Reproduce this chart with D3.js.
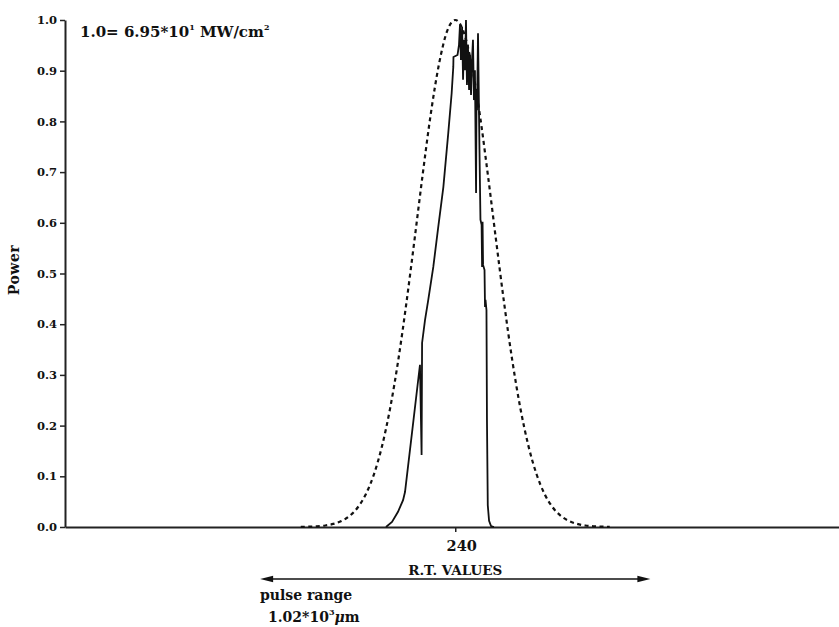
<!DOCTYPE html>
<html>
<head>
<meta charset="utf-8">
<script src="https://cdn.jsdelivr.net/npm/d3@7"></script>
<style>
  html, body { margin: 0; padding: 0; background: #fff; }
  svg { display: block; }
  text { font-family: "DejaVu Serif", "Liberation Serif", serif; font-weight: bold; fill: #111; }
</style>
</head>
<body>
<svg id="chart" width="839" height="627"></svg>
<script>
// Reference (Gaussian) pulse, dashed
const refX = [145,150,155,160,165,170,175,180,185,190,195,200,205,210,215,220,225,230,235,240,
              245,250,255,260,265,270,275,280,285,290,295,300,305,310,315,320,325,330,335];
const refY = [0.0003,0.0007,0.0014,0.0030,0.0061,0.0118,0.0218,0.0384,0.0646,0.104,0.160,0.235,0.330,0.443,0.568,0.696,0.816,0.913,0.978,1.0,
              0.978,0.913,0.816,0.696,0.568,0.443,0.330,0.235,0.160,0.104,0.0646,0.0384,0.0218,0.0118,0.0061,0.0030,0.0014,0.0007,0.0003];

// Measured power, solid
const powX = [197.4,201.1,204.8,207.9,209.1,213.7,218.3,219.3,219.6,221.4,223.4,226.5,229.4,232.7,235.7,237.8,238.8,238.9,
              241.4,242.3,242.9,243.5,244.2,244.8,245.4,246.0,246.6,247.2,247.8,248.5,249.1,249.7,250.3,250.9,251.5,252.1,
              252.8,253.1,253.4,254.0,254.9,255.5,256.2,256.5,256.8,257.1,258.0,258.3,258.6,259.2,259.5,260.0,260.8,262.0,263.8];
const powY = [0,0.010,0.030,0.053,0.069,0.194,0.320,0.142,0.363,0.408,0.448,0.513,0.588,0.671,0.777,0.856,0.908,0.927,
              0.931,0.951,0.990,0.921,0.986,0.882,0.961,0.901,1.0,0.872,0.951,0.862,0.931,0.852,0.921,0.961,0.842,0.901,
              0.659,0.862,0.822,0.974,0.744,0.606,0.596,0.513,0.602,0.517,0.507,0.434,0.448,0.428,0.211,0.043,0.012,0.002,0];

const yTicks = [0,0.1,0.2,0.3,0.4,0.5,0.6,0.7,0.8,0.9,1.0];
const xTicks = [240];
const pulseRange = [120, 360];

const svg = d3.select("#chart");

const x = d3.scaleLinear().domain([0, 476]).range([65, 839]);
const y = d3.scaleLinear().domain([0, 1]).range([527, 20]);

// Y axis
const yAxis = d3.axisLeft(y).tickValues(yTicks).tickFormat(d3.format(".1f")).tickSize(5).tickSizeOuter(0).tickPadding(3);
const gy = svg.append("g").attr("transform", `translate(${x(0)},0)`).call(yAxis);
gy.select(".domain").attr("stroke", "#222").attr("stroke-width", 2);
gy.selectAll(".tick line").attr("stroke", "#222").attr("stroke-width", 1.5);
gy.selectAll(".tick text").attr("font-family", null).attr("font-size", 11.5).attr("fill", "#111");

// X axis
const xAxis = d3.axisBottom(x).tickValues(xTicks).tickSize(5).tickSizeOuter(0).tickPadding(9);
const gx = svg.append("g").attr("transform", `translate(0,${y(0)})`).call(xAxis);
gx.select(".domain").attr("stroke", "#222").attr("stroke-width", 2);
gx.selectAll(".tick line").attr("stroke", "#222").attr("stroke-width", 1.5);
gx.selectAll(".tick text").attr("font-family", null).attr("font-size", 14.5).attr("dx", 6).attr("fill", "#111");

// Curves
const refLine = d3.line().x((d, i) => x(refX[i])).y(d => y(d)).curve(d3.curveMonotoneX);
svg.append("path").attr("d", refLine(refY))
  .attr("fill", "none").attr("stroke", "#111").attr("stroke-width", 2.2)
  .attr("stroke-dasharray", "4,3.5");

const powLine = d3.line().x((d, i) => x(powX[i])).y(d => y(d));
svg.append("path").attr("d", powLine(powY))
  .attr("fill", "none").attr("stroke", "#111").attr("stroke-width", 1.8)
  .attr("stroke-linejoin", "miter");

// Axis titles
svg.append("text").attr("transform", "translate(19,270) rotate(-90)")
  .attr("text-anchor", "middle").attr("font-size", 14).attr("letter-spacing", 0.5).text("Power");

svg.append("text").attr("x", x(240)).attr("y", 575)
  .attr("text-anchor", "middle").attr("font-size", 13.5).text("R.T. VALUES");

// Scale note
const note = svg.append("text").attr("x", 80).attr("y", 37).attr("font-size", 15);
note.append("tspan").text("1.0= 6.95*10");
note.append("tspan").attr("font-size", 8).attr("dy", -7).text("1");
note.append("tspan").attr("dy", 7).text(" MW/cm");
note.append("tspan").attr("font-size", 8).attr("dy", -7).text("2");

// Pulse range arrow
const ay = 579;
svg.append("line").attr("x1", x(pulseRange[0]) + 6).attr("x2", x(pulseRange[1]) - 6)
  .attr("y1", ay).attr("y2", ay).attr("stroke", "#111").attr("stroke-width", 1.6);
svg.append("path")
  .attr("d", `M${x(pulseRange[0])},${ay} l13,-3.2 l0,6.4 Z`).attr("fill", "#111");
svg.append("path")
  .attr("d", `M${x(pulseRange[1])},${ay} l-13,-3.2 l0,6.4 Z`).attr("fill", "#111");

svg.append("text").attr("x", 260).attr("y", 600).attr("font-size", 14).text("pulse range");
const pr = svg.append("text").attr("x", 268).attr("y", 622).attr("font-size", 14);
pr.append("tspan").text("1.02*10");
pr.append("tspan").attr("font-size", 8).attr("dy", -7).text("3");
pr.append("tspan").attr("dy", 7).attr("font-style", "italic").text("μ");
pr.append("tspan").text("m");
</script>
</body>
</html>
